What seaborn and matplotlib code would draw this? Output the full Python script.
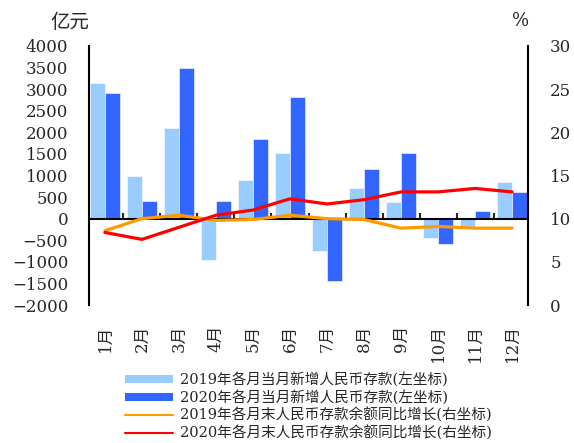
import numpy as np
import pandas as pd
import matplotlib
matplotlib.use("Agg")
import matplotlib.pyplot as plt
from matplotlib.patches import Patch
from matplotlib.lines import Line2D
import seaborn as sns

months = ['1月', '2月', '3月', '4月', '5月', '6月', '7月', '8月', '9月', '10月', '11月', '12月']
dep_2019 = [3150, 1000, 2100, -950, 900, 1520, -750, 700, 380, -440, -190, 840]
dep_2020 = [2900, 420, 3500, 420, 1850, 2830, -1440, 1140, 1530, -580, 170, 610]
growth_2019 = [8.6, 10.0, 10.4, 9.8, 9.9, 10.4, 10.0, 9.9, 8.9, 9.1, 8.9, 8.9]
growth_2020 = [8.4, 7.6, 9.0, 10.4, 11.0, 12.3, 11.7, 12.2, 13.1, 13.1, 13.5, 13.1]

labels = ['2019年各月当月新增人民币存款(左坐标)',
          '2020年各月当月新增人民币存款(左坐标)',
          '2019年各月末人民币存款余额同比增长(右坐标)',
          '2020年各月末人民币存款余额同比增长(右坐标)']
c_light, c_dark, c_orange, c_red = '#99CCFF', '#3366FF', '#FF9900', '#FF0000'

sns.set_style('white')
plt.rcParams['font.family'] = ['DejaVu Serif', 'Noto Sans CJK SC']
plt.rcParams['axes.unicode_minus'] = True

df = pd.DataFrame({
    'month': months * 2,
    'value': dep_2019 + dep_2020,
    'series': [labels[0]] * 12 + [labels[1]] * 12,
})

fig = plt.figure(figsize=(5.74, 4.43), dpi=100)
ax = fig.add_axes([89 / 574, 1 - 305 / 443, (528 - 89) / 574, (305 - 46) / 443])
sns.barplot(data=df, x='month', y='value', hue='series', order=months,
            hue_order=labels[:2], palette=[c_light, c_dark], width=0.81,
            saturation=1, edgecolor='white', linewidth=0.4, legend=False, ax=ax)
ax.set_xlim(-0.43, 11.43)
ax.set_ylim(-2000, 4000)
ax.set_yticks(np.arange(-2000, 4001, 500))
ax.set_yticks([-2000, 4000], minor=True)
ax.tick_params(axis='y', which='major', length=0, pad=15, labelsize=12)
ax.tick_params(axis='y', which='minor', direction='in', length=3, width=1.5, left=True)
ax.set_xlabel('')
ax.set_ylabel('')
for s in ['top', 'right']:
    ax.spines[s].set_visible(False)
ax.spines['left'].set_linewidth(1.5)
ax.spines['left'].set_color('black')
ax.spines['bottom'].set_position(('data', 0))
ax.spines['bottom'].set_linewidth(1.5)
ax.spines['bottom'].set_color('black')
ax.set_xticks(np.arange(0.5, 11, 1))
ax.set_xticklabels([])
ax.tick_params(axis='x', direction='in', length=4, width=1.5, bottom=True)

sec = ax.secondary_xaxis(0)
sec.set_xticks(range(12))
sec.set_xticklabels(months, rotation=90, fontsize=12)
sec.tick_params(length=0, pad=14)
sec.spines['bottom'].set_visible(False)

ax2 = ax.twinx()
sns.lineplot(x=np.arange(12), y=growth_2019, color=c_orange, linewidth=2.3, ax=ax2, legend=False)
sns.lineplot(x=np.arange(12), y=growth_2020, color=c_red, linewidth=2.3, ax=ax2, legend=False)
ax2.set_ylim(0, 30)
ax2.set_yticks(np.arange(0, 31, 5))
ax2.set_yticks([0, 30], minor=True)
ax2.tick_params(axis='y', which='major', length=0, pad=16, labelsize=12)
ax2.tick_params(axis='y', which='minor', direction='in', length=3, width=1.5, right=True)
for s in ['top', 'left', 'bottom']:
    ax2.spines[s].set_visible(False)
ax2.spines['right'].set_linewidth(1.5)
ax2.spines['right'].set_color('black')
ax2.set_ylabel('')

fig.text(70 / 574, 1 - 23 / 443, '亿元', fontsize=14, ha='center', va='center',
         family=['Noto Sans CJK SC'])
fig.text(521 / 574, 1 - 21 / 443, '%', fontsize=13, ha='center', va='center')

handles = [Patch(facecolor=c_light, edgecolor='none'),
           Patch(facecolor=c_dark, edgecolor='none'),
           Line2D([0], [0], color=c_orange, lw=1.5),
           Line2D([0], [0], color=c_red, lw=1.5)]
fig.legend(handles, labels, loc='upper left', bbox_to_anchor=(125 / 574, 1 - 372 / 443),
           frameon=False, handlelength=3.3, handleheight=0.5,
           handletextpad=0.5, labelspacing=0.2, borderpad=0, borderaxespad=0,
           prop={'family': ['DejaVu Serif', 'Noto Sans CJK SC'], 'size': 10.5})

fig.savefig('out.png', dpi=100)
